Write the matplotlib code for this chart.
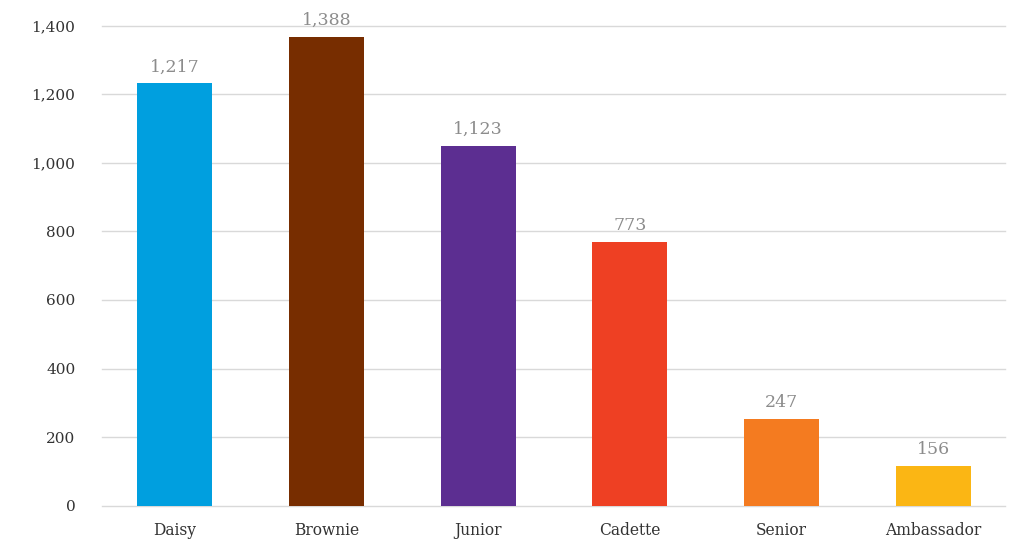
import matplotlib
matplotlib.use('Agg')
import matplotlib.pyplot as plt
from matplotlib.ticker import FuncFormatter

categories = ['Daisy', 'Brownie', 'Junior', 'Cadette', 'Senior', 'Ambassador']
heights = [1232, 1368, 1050, 770, 253, 116]
labels = ['1,217', '1,388', '1,123', '773', '247', '156']
colors = ['#009fdf', '#772d00', '#5c2e91', '#ee4023', '#f47b20', '#fbb614']

plt.rcParams['font.family'] = ['DejaVu Serif']

fig = plt.figure(figsize=(10.2, 5.46), dpi=100)
ax = fig.add_axes([0.0997, 0.0738, 0.8853, 0.8792])

x = range(len(categories))
bars = ax.bar(x, heights, width=0.494, color=colors, zorder=3)

for b, lab in zip(bars, labels):
    ax.text(b.get_x() + b.get_width() / 2, b.get_height() + 22, lab,
            ha='center', va='bottom', fontsize=12.5, color='#8c8c8c', clip_on=False)

ax.set_xlim(-0.48, 5.47)
ax.set_ylim(0, 1400)
ax.set_yticks(range(0, 1401, 200))
ax.yaxis.set_major_formatter(FuncFormatter(lambda v, p: f'{int(v):,}'))
ax.set_xticks(list(x))
ax.set_xticklabels(categories)
ax.grid(axis='y', color='#d9d9d9', linewidth=1, zorder=0)
for gl in ax.get_ygridlines():
    gl.set_clip_on(False)
for s in ax.spines.values():
    s.set_visible(False)
ax.tick_params(axis='y', length=0, labelsize=11, labelcolor='#333333', pad=19)
ax.tick_params(axis='x', length=0, labelsize=11.2, labelcolor='#333333', pad=12)

fig.savefig('out.png', dpi=100)
